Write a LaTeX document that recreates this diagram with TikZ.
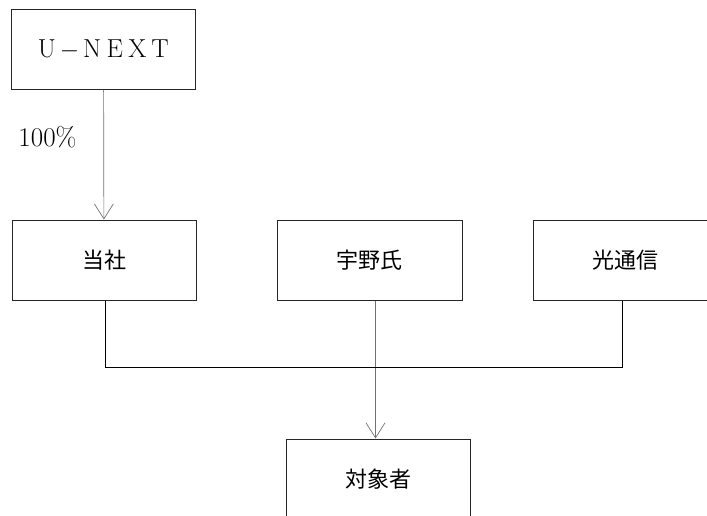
\documentclass[tikz,border=0pt]{standalone}
\usepackage{fontspec}
\newfontfamily\jp{Noto Sans CJK JP}
\usetikzlibrary{arrows.meta}
\tikzset{
  box/.style={draw=black!85, line width=1pt, minimum width=184pt, minimum height=80pt, inner sep=0pt, font=\jp\fontsize{22}{22}\selectfont},
  arr/.style={draw=black!55, line width=0.7pt, -{Straight Barb[length=15pt,width=19pt,line width=0.7pt]}},
  conn/.style={draw=black, line width=1pt}
}
\newcommand{\fw}[1]{\makebox[22.6pt]{#1}}
\begin{document}
\begin{tikzpicture}[x=1pt,y=-1pt]
\useasboundingbox (0,0) rectangle (707,516);
\clip (0,0) rectangle (707,516);
\node[box, font=\fontsize{26}{26}\selectfont] (un) at (103.5,50) {\fw{U}\fw{$-$}\fw{N}\fw{E}\fw{X}\fw{T}};
\node[box] (tosha) at (104,260) {当社};
\node[box, minimum width=185pt] (uno) at (369.5,260) {宇野氏};
\node[box] (hikari) at (625,260) {光通信};
\node[box] (taisho) at (378,479) {対象者};
\node[font=\fontsize{27}{27}\selectfont] (pct) at (47.5,137) {100\%};
\draw[arr] (un) -- (tosha);
\draw[arr] ([xshift=6pt]uno.south) -- ([xshift=6pt]uno.south |- taisho.north);
\draw[conn] ([xshift=1pt]tosha.south) -- ++(0,67) coordinate (jn) -| ([xshift=-3pt]hikari.south);
\end{tikzpicture}
\end{document}
